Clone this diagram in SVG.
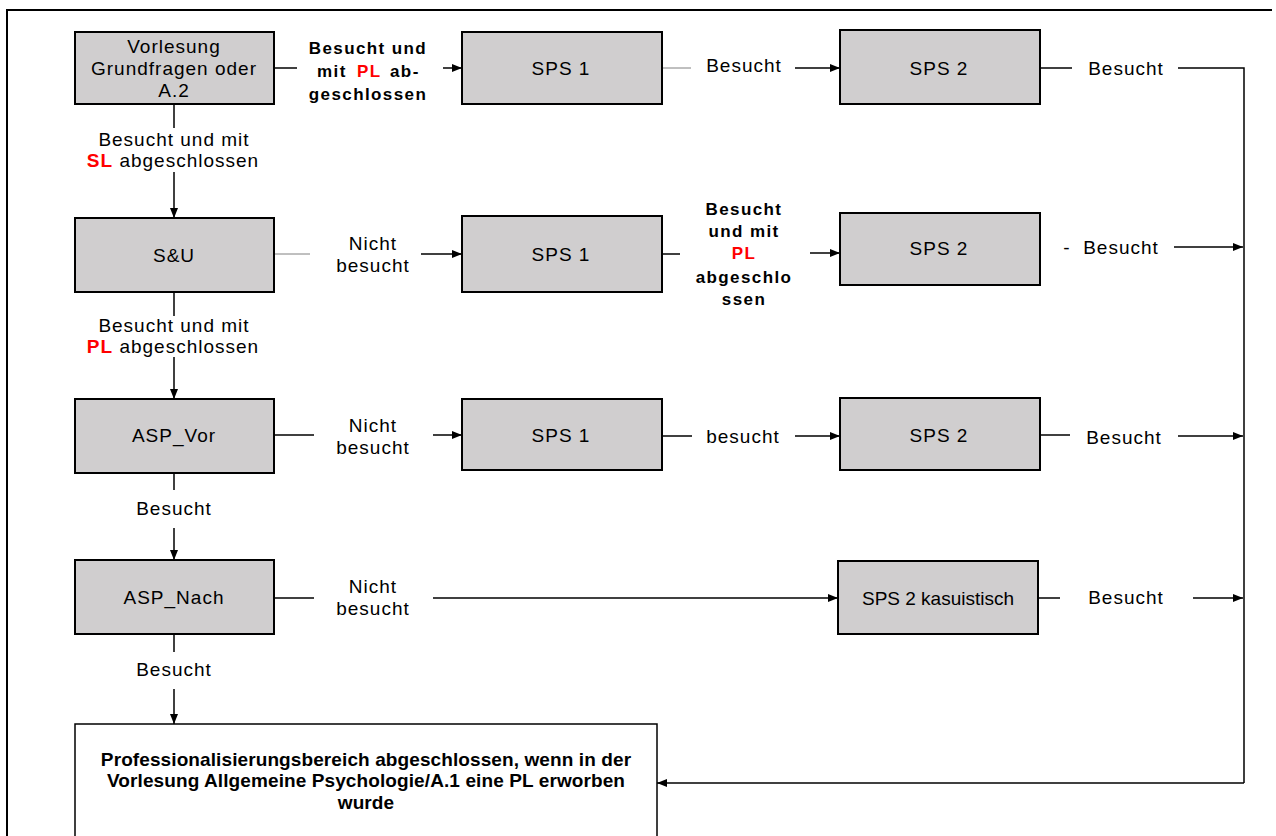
<svg xmlns="http://www.w3.org/2000/svg" width="1276" height="836" viewBox="0 0 1276 836">
<defs>
<marker id="ah" viewBox="0 0 10 8" refX="10" refY="4" markerWidth="10" markerHeight="8" markerUnits="userSpaceOnUse" orient="auto">
<path d="M0,0 L10,4 L0,8 Z" fill="#000"/>
</marker>
<style>
.box{fill:#d0cecf;stroke:#000;stroke-width:2}
.wbox{fill:#fff;stroke:#000;stroke-width:1.5}
.t{font-family:"Liberation Sans",Arial,sans-serif;font-size:19px;letter-spacing:1px;fill:#000;text-anchor:middle}
.b{font-family:"Liberation Sans",Arial,sans-serif;font-size:17px;font-weight:bold;letter-spacing:1.4px;fill:#000;text-anchor:middle}
.red{fill:#ff0000;font-weight:bold}
.ln{fill:none;stroke:#000;stroke-width:1.5}
.gl{fill:none;stroke:#808080;stroke-width:1}
.ar{fill:none;stroke:#000;stroke-width:1.5;marker-end:url(#ah)}
</style>
</defs>
<rect width="1276" height="836" fill="#fff"/>
<path d="M7,836 L7,10 L1272,10" fill="none" stroke="#000" stroke-width="2"/>

<g id="connectors">
<!-- row 1 -->
<line class="ln" x1="274" y1="68" x2="297" y2="68"/>
<line class="ar" x1="443" y1="68" x2="462" y2="68"/>
<line class="gl" x1="662" y1="68" x2="691" y2="68"/>
<line class="ar" x1="795" y1="68" x2="840" y2="68"/>
<line class="ln" x1="1040" y1="68" x2="1072" y2="68"/>
<path class="ln" d="M1178,68 L1244,68 L1244,783"/>
<line class="ar" x1="1244" y1="783" x2="657" y2="783"/>
<!-- vertical column -->
<line class="ln" x1="174" y1="104" x2="174" y2="128"/>
<line class="ar" x1="174" y1="172" x2="174" y2="218"/>
<line class="ln" x1="174" y1="292" x2="174" y2="316"/>
<line class="ar" x1="174" y1="357" x2="174" y2="399"/>
<line class="ln" x1="174" y1="473" x2="174" y2="490"/>
<line class="ar" x1="174" y1="528" x2="174" y2="560"/>
<line class="ln" x1="174" y1="634" x2="174" y2="652"/>
<line class="ar" x1="174" y1="689" x2="174" y2="724"/>
<!-- row 2 -->
<line class="gl" x1="274" y1="254" x2="310" y2="254"/>
<line class="ar" x1="421" y1="254" x2="462" y2="254"/>
<line class="ln" x1="662" y1="254" x2="680" y2="254"/>
<line class="ar" x1="810" y1="253" x2="840" y2="253"/>
<line class="ar" x1="1174" y1="247" x2="1243" y2="247"/>
<!-- row 3 -->
<line class="ln" x1="274" y1="435" x2="314" y2="435"/>
<line class="ar" x1="433" y1="435" x2="462" y2="435"/>
<line class="ln" x1="662" y1="436" x2="692" y2="436"/>
<line class="ar" x1="795" y1="436" x2="840" y2="436"/>
<line class="ln" x1="1040" y1="435" x2="1070" y2="435"/>
<line class="ar" x1="1178" y1="436" x2="1243" y2="436"/>
<!-- row 4 -->
<line class="ln" x1="274" y1="598" x2="314" y2="598"/>
<line class="ar" x1="433" y1="598" x2="838" y2="598"/>
<line class="ln" x1="1038" y1="598" x2="1060" y2="598"/>
<line class="ar" x1="1193" y1="598" x2="1243" y2="598"/>
</g>

<g id="labels">
<text class="b"><tspan x="368" y="54">Besucht und</tspan></text>
<text class="b" style="text-anchor:start"><tspan x="317" y="77">mit</tspan><tspan class="red" x="357" y="77">PL</tspan><tspan x="390" y="77">ab-</tspan></text>
<text class="b"><tspan x="368" y="100">geschlossen</tspan></text>
<text class="t" x="744" y="72">Besucht</text>
<text class="t" x="1126" y="75">Besucht</text>
<text class="t" x="174" y="146">Besucht und mit</text>
<text class="t" x="173" y="167"><tspan class="red">SL</tspan> abgeschlossen</text>
<text class="t" x="174" y="332">Besucht und mit</text>
<text class="t" x="173" y="353"><tspan class="red">PL</tspan> abgeschlossen</text>
<text class="t" x="373" y="250">Nicht</text>
<text class="t" x="373" y="272">besucht</text>
<text class="b" x="744" y="215">Besucht</text>
<text class="b" x="744" y="237">und mit</text>
<text class="b red" x="744" y="259">PL</text>
<text class="b" x="744" y="283">abgeschlo</text>
<text class="b" x="744" y="305">ssen</text>
<text class="t" x="1067" y="254">-</text>
<text class="t" x="1121" y="254">Besucht</text>
<text class="t" x="373" y="432">Nicht</text>
<text class="t" x="373" y="454">besucht</text>
<text class="t" x="743" y="443">besucht</text>
<text class="t" x="1124" y="444">Besucht</text>
<text class="t" x="174" y="515">Besucht</text>
<text class="t" x="373" y="593">Nicht</text>
<text class="t" x="373" y="615">besucht</text>
<text class="t" x="1126" y="604">Besucht</text>
<text class="t" x="174" y="676">Besucht</text>
</g>

<g id="n-vorlesung">
<rect class="box" x="75" y="32" width="199" height="72"/>
<text class="t" x="174" y="53">Vorlesung</text>
<text class="t" x="174" y="75">Grundfragen oder</text>
<text class="t" x="174" y="97">A.2</text>
</g>
<g id="n-sps1-r1">
<rect class="box" x="462" y="32" width="200" height="72"/>
<text class="t" x="561" y="75">SPS 1</text>
</g>
<g id="n-sps2-r1">
<rect class="box" x="840" y="30" width="200" height="74"/>
<text class="t" x="939" y="75">SPS 2</text>
</g>
<g id="n-su">
<rect class="box" x="75" y="218" width="199" height="74"/>
<text class="t" x="174" y="262">S&amp;U</text>
</g>
<g id="n-sps1-r2">
<rect class="box" x="462" y="216" width="200" height="76"/>
<text class="t" x="561" y="261">SPS 1</text>
</g>
<g id="n-sps2-r2">
<rect class="box" x="840" y="213" width="200" height="72"/>
<text class="t" x="939" y="255">SPS 2</text>
</g>
<g id="n-aspvor">
<rect class="box" x="75" y="399" width="199" height="74"/>
<text class="t" x="174" y="442">ASP_Vor</text>
</g>
<g id="n-sps1-r3">
<rect class="box" x="462" y="399" width="200" height="71"/>
<text class="t" x="561" y="442">SPS 1</text>
</g>
<g id="n-sps2-r3">
<rect class="box" x="840" y="398" width="200" height="72"/>
<text class="t" x="939" y="442">SPS 2</text>
</g>
<g id="n-aspnach">
<rect class="box" x="75" y="560" width="199" height="74"/>
<text class="t" x="174" y="604">ASP_Nach</text>
</g>
<g id="n-sps2k">
<rect class="box" x="838" y="561" width="200" height="73"/>
<text class="t" x="938" y="605" style="letter-spacing:0">SPS 2 kasuistisch</text>
</g>
<g id="n-final">
<rect class="wbox" x="75" y="724" width="582" height="130"/>
<text class="b" style="font-size:19px;letter-spacing:0.1px" x="366" y="766">Professionalisierungsbereich abgeschlossen, wenn in der</text>
<text class="b" style="font-size:19px;letter-spacing:0.1px" x="366" y="787">Vorlesung Allgemeine Psychologie/A.1 eine PL erworben</text>
<text class="b" style="font-size:19px;letter-spacing:0.1px" x="366" y="809">wurde</text>
</g>
</svg>
